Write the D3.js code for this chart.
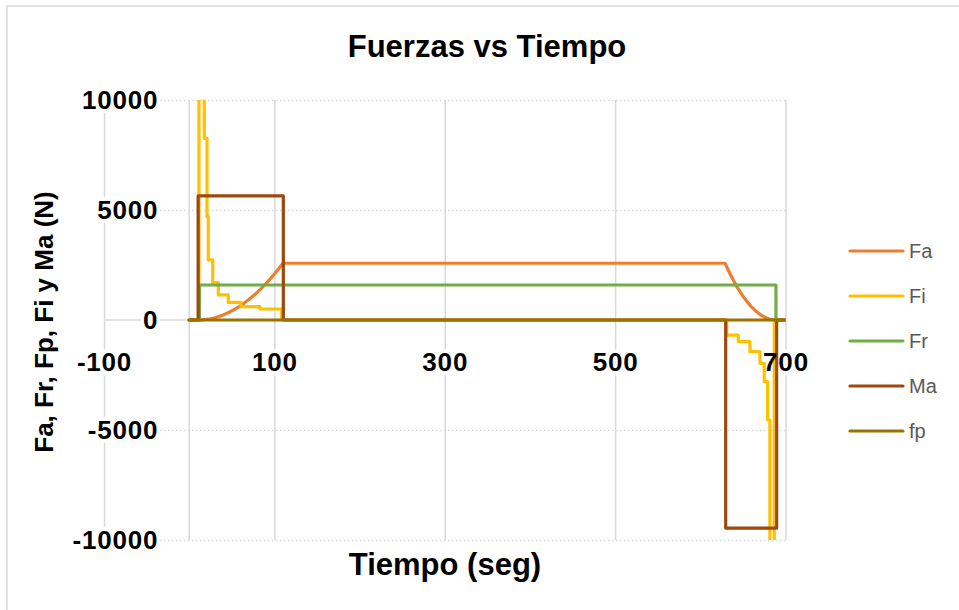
<!DOCTYPE html>
<html>
<head>
<meta charset="utf-8">
<script src="https://cdn.jsdelivr.net/npm/d3@7"></script>
<style>
  body { margin: 0; background: #fff; }
  text { font-family: "Liberation Sans", Arial, sans-serif; }
</style>
</head>
<body>
<div id="chart"></div>
<script>
// ---- data (time in s, force in N) ----
const faT = [0, 10, 15, 20, 25, 30, 35, 40, 45, 50, 55, 60, 65, 70, 75, 80, 85, 90, 95, 100, 105, 110,
  629, 632, 635, 638, 641, 644, 647, 650, 653, 656, 659, 662, 665, 668, 671, 674, 677, 680, 683, 686, 689, 700]
const faV = [0, 0, 6, 26, 58, 103, 161, 232, 316, 413, 522, 645, 780, 929, 1090, 1264, 1451, 1651, 1864, 2090, 2328, 2580,
  2580, 2328, 2090, 1864, 1651, 1451, 1264, 1090, 929, 780, 645, 522, 413, 316, 232, 161, 103, 58, 26, 6, 0, 0]

const fiT = [0, 11.5, 11.5, 17.7, 17.7, 20.9, 20.9, 22.4, 22.4, 27.6, 27.6, 34.2, 34.2, 45.9, 45.9, 60.8, 60.8, 83.1, 83.1, 108.6, 108.6,
  631, 631, 644.6, 644.6, 658.3, 658.3, 670, 670, 675, 675, 679, 679, 681.7, 681.7, 686.8, 686.8, 700]
const fiV = [0, 0, 40000, 40000, 8260, 8260, 4700, 4700, 2730, 2730, 1700, 1700, 1140, 1140, 800, 800, 606, 606, 500, 500, 0,
  0, -690, -690, -985, -985, -1440, -1440, -1970, -1970, -2800, -2800, -4545, -4545, -40000, -40000, 0, 0]

const frT = [0, 12, 12, 688.8, 688.8, 700]
const frV = [0, 0, 1590, 1590, 0, 0]

const maT = [0, 10.5, 10.5, 110.5, 110.5, 629.8, 629.8, 689.6, 689.6, 700]
const maV = [0, 0, 5640, 5640, 0, 0, -9460, -9460, 0, 0]

const fpT = [0, 700]
const fpV = [0, 0]

const seriesNames = ["Fa", "Fi", "Fr", "Ma", "fp"]
const seriesColors = ["#ED7D31", "#FFC000", "#70AD47", "#9E480E", "#997300"]
const xTicks = [-100, 100, 300, 500, 700]
const yTicks = [10000, 5000, 0, -5000, -10000]

const series = [[faT, faV], [fiT, fiV], [frT, frV], [maT, maV], [fpT, fpV]].map((s, i) => ({
    name: seriesNames[i],
    color: seriesColors[i],
    points: s[0].map((t, j) => [t, s[1][j]])
}))

const W = 959, H = 610
const plot = { left: 104, right: 785.5, top: 100, bottom: 540 }

const svg = d3.select("#chart").append("svg")
    .attr("width", W)
    .attr("height", H)

// chart border
svg.append("rect")
    .attr("x", 7).attr("y", 6)
    .attr("width", W + 10).attr("height", H + 10)
    .attr("fill", "#fff")
    .attr("stroke", "#d9d9d9")
    .attr("stroke-width", 1.5)

const x = d3.scaleLinear().domain([-100, 700]).range([plot.left, plot.right])
const y = d3.scaleLinear().domain([-10000, 10000]).range([plot.bottom, plot.top])

/* gridlines */
svg.append("g")
    .attr("transform", `translate(0, ${plot.bottom})`)
    .call(d3.axisBottom(x).tickValues(xTicks).tickSize(-(plot.bottom - plot.top)).tickFormat(""))
    .call(g => g.select(".domain").remove())
    .call(g => g.selectAll("line").attr("stroke", "#d9d9d9").attr("stroke-width", 1.5))

svg.append("g")
    .attr("transform", `translate(${plot.left}, 0)`)
    .call(d3.axisLeft(y).tickValues(yTicks.filter(d => d !== 0)).tickSize(-(plot.right - plot.left)).tickFormat(""))
    .call(g => g.select(".domain").remove())
    .call(g => g.selectAll("line").attr("stroke", "#d9d9d9").attr("stroke-width", 1.5).attr("stroke-dasharray", "1.5,2.5"))

// axis lines crossing at 0
svg.append("line")
    .attr("x1", x(0)).attr("x2", x(0))
    .attr("y1", plot.top).attr("y2", plot.bottom)
    .attr("stroke", "#d9d9d9").attr("stroke-width", 1.5)
svg.append("line")
    .attr("x1", plot.left).attr("x2", plot.right)
    .attr("y1", y(0)).attr("y2", y(0))
    .attr("stroke", "#d9d9d9").attr("stroke-width", 1.5)

const labelBg = svg.append("g")

/* series */
svg.append("clipPath").attr("id", "plot-clip")
    .append("rect")
    .attr("x", plot.left).attr("y", plot.top)
    .attr("width", plot.right - plot.left).attr("height", plot.bottom - plot.top)

const line = d3.line().x(d => x(d[0])).y(d => y(d[1]))

svg.append("g")
    .attr("clip-path", "url(#plot-clip)")
    .selectAll("path")
    .data(series)
    .enter()
    .append("path")
    .attr("d", d => line(d.points))
    .attr("fill", "none")
    .attr("stroke", d => d.color)
    .attr("stroke-width", 3.2)
    .attr("stroke-linejoin", "round")
    .attr("stroke-linecap", "round")

/* axes labels */
const tickFont = g => g.selectAll("text")
    .attr("font-size", 26)
    .attr("font-weight", "bold")
    .attr("letter-spacing", "0.8px")
    .attr("fill", "#000")

const plain = d => String(d).replace("\u2212", "-")

svg.append("g")
    .attr("transform", `translate(${x(0)}, 0)`)
    .call(d3.axisLeft(y).tickValues(yTicks).tickSize(0).tickPadding(31).tickFormat(plain))
    .call(g => g.select(".domain").remove())
    .call(g => g.attr("font-family", null))
    .call(tickFont)

svg.append("g")
    .attr("transform", `translate(0, ${y(0)})`)
    .call(d3.axisBottom(x).tickValues(xTicks).tickSize(0).tickPadding(33).tickFormat(plain))
    .call(g => g.select(".domain").remove())
    .call(g => g.attr("font-family", null))
    .call(tickFont)

// white boxes behind labels hide the gridlines like in the original
svg.selectAll(".tick text").each(function () {
    const b = this.getBoundingClientRect()
    if (!b.width) return
    labelBg.append("rect")
        .attr("x", b.x - 2).attr("y", b.y + 2)
        .attr("width", b.width + 4).attr("height", b.height - 4)
        .attr("fill", "#fff")
})

svg.append("text")
    .attr("x", 487).attr("y", 57)
    .attr("text-anchor", "middle")
    .attr("font-size", 31)
    .attr("font-weight", "bold")
    .text("Fuerzas vs Tiempo")

svg.append("text")
    .attr("x", 445).attr("y", 575)
    .attr("text-anchor", "middle")
    .attr("font-size", 31)
    .attr("font-weight", "bold")
    .text("Tiempo (seg)")

svg.append("text")
    .attr("transform", "translate(53, 322) rotate(-90)")
    .attr("text-anchor", "middle")
    .attr("font-size", 26)
    .attr("font-weight", "bold")
    .text("Fa, Fr, Fp, Fi y Ma (N)")

/* legend */
const legend = svg.append("g")
    .selectAll("g")
    .data(series)
    .enter()
    .append("g")
    .attr("transform", (d, i) => `translate(850, ${251 + i * 45})`)

legend.append("line")
    .attr("x1", 0).attr("x2", 53)
    .attr("stroke", d => d.color)
    .attr("stroke-width", 3.2)
    .attr("stroke-linecap", "round")

legend.append("text")
    .attr("x", 59)
    .attr("dy", "0.35em")
    .attr("font-size", 20)
    .attr("fill", "#595959")
    .text(d => d.name)
</script>
</body>
</html>
